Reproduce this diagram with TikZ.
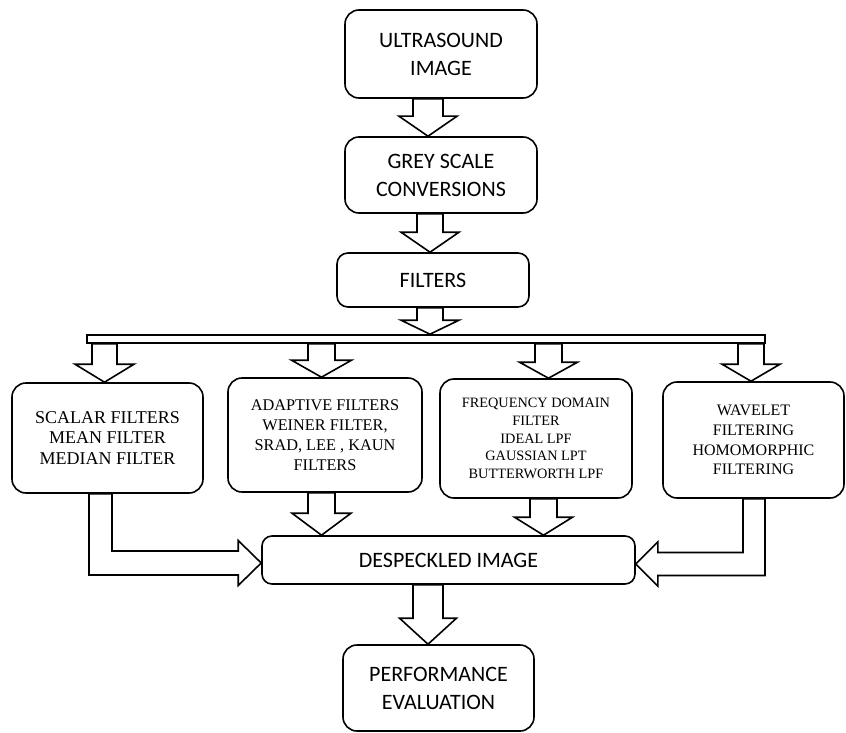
\documentclass[tikz,border=0pt]{standalone}
\usepackage{fontspec}
\setmainfont{Liberation Serif}
\newfontfamily\sansf{Carlito}
\usetikzlibrary{calc}
\newcommand\vblk[6]{% from, to, x centre, shaft half, head half, head length
  \draw[blk] let \p1=(#1.south), \p2=(#2.north) in
    ({(#3-#4)*1pt},\y1) -- ({(#3-#4)*1pt},{\y2+#6pt}) -- ({(#3-#5)*1pt},{\y2+#6pt})
    -- ({#3pt},\y2) -- ({(#3+#5)*1pt},{\y2+#6pt}) -- ({(#3+#4)*1pt},{\y2+#6pt})
    -- ({(#3+#4)*1pt},\y1) -- cycle;}
\begin{document}
\begin{tikzpicture}[x=1pt,y=-1pt,
  box/.style={draw,line width=1.6pt,rounded corners=14pt,align=center,inner sep=0pt},
  sbox/.style={box,font=\sansf\fontsize{22}{28}\selectfont},
  blk/.style={draw,line width=1.6pt,fill=white,line join=miter}]
\useasboundingbox (0,0) rectangle (846,733);
% top chain
\node[sbox,minimum width=192pt,minimum height=88pt] (us) at (441,54) {ULTRASOUND\\IMAGE};
\node[sbox,minimum width=192pt,minimum height=76pt] (grey) at (441,175) {GREY SCALE\\CONVERSIONS};
\node[sbox,minimum width=192pt,minimum height=54pt,rounded corners=11pt] (filt) at (433,280) {FILTERS};
% bus
\node[draw,line width=1.6pt,minimum width=678pt,minimum height=8pt,inner sep=0pt] (bus) at (426,339) {};
% filter family boxes
\node[box,minimum width=191pt,minimum height=110pt,font=\fontsize{18}{20.5}\selectfont] (sc) at (107.5,438)
  {SCALAR FILTERS\\MEAN FILTER\\MEDIAN FILTER};
\node[box,minimum width=194pt,minimum height=114pt,font=\fontsize{16.3}{20}\selectfont] (ad) at (325,435)
  {ADAPTIVE FILTERS\\WEINER FILTER,\\SRAD, LEE , KAUN\\FILTERS};
\node[box,minimum width=192pt,minimum height=119pt,font=\fontsize{14.3}{17.6}\selectfont] (fr) at (536,438.5)
  {FREQUENCY DOMAIN\\FILTER\\IDEAL LPF\\GAUSSIAN LPT\\BUTTERWORTH LPF};
\node[box,minimum width=181pt,minimum height=116pt,font=\fontsize{16}{19.7}\selectfont] (wv) at (753.5,440)
  {WAVELET\\FILTERING\\HOMOMORPHIC\\FILTERING};
% result boxes
\node[sbox,minimum width=373pt,minimum height=48pt,rounded corners=10pt] (desp) at (448.5,560) {DESPECKLED IMAGE};
\node[sbox,minimum width=191pt,minimum height=86pt] (perf) at (438.5,688) {PERFORMANCE\\EVALUATION};
% block arrows
\vblk{us}{grey}{428}{15}{29}{20}
\vblk{grey}{filt}{430}{13}{29}{20}
\vblk{filt}{bus}{430}{13}{29}{14}
\vblk{bus}{sc}{104.5}{12.5}{29.5}{18}
\vblk{bus}{ad}{321.5}{13.5}{30}{17}
\vblk{bus}{fr}{548.5}{13.5}{29}{16}
\vblk{bus}{wv}{751}{13}{29}{17}
\vblk{ad}{desp}{321.5}{13.5}{29.5}{22}
\vblk{fr}{desp}{543.5}{13.5}{29}{18}
\vblk{desp}{perf}{428}{15}{28.5}{26}
% elbow arrows
\draw[blk] let \p1=(sc.south), \p2=([yshift=-3pt]desp.west) in
  (89pt,\y1) -- (89pt,{\y2-12pt}) -- ({\x2-23pt},{\y2-12pt}) -- ({\x2-23pt},{\y2-22.5pt})
  -- (\p2) -- ({\x2-23pt},{\y2+22.5pt}) -- ({\x2-23pt},{\y2+12pt}) -- (112pt,{\y2+12pt})
  -- (112pt,\y1) -- cycle;
\draw[blk] let \p1=(wv.south), \p2=([yshift=-4pt]desp.east) in
  (765pt,\y1) -- (765pt,{\y2-11.5pt}) -- ({\x2+22pt},{\y2-11.5pt}) -- ({\x2+22pt},{\y2-22pt})
  -- (\p2) -- ({\x2+22pt},{\y2+22pt}) -- ({\x2+22pt},{\y2+11.5pt}) -- (743pt,{\y2+11.5pt})
  -- (743pt,\y1) -- cycle;
\end{tikzpicture}
\end{document}
